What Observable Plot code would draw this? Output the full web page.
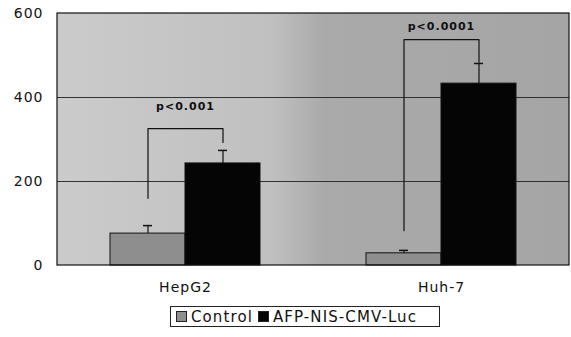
<!DOCTYPE html>
<html>
<head>
<meta charset="utf-8">
<script src="https://cdn.jsdelivr.net/npm/d3@7"></script>
<script src="https://cdn.jsdelivr.net/npm/@observablehq/plot@0.6"></script>
<style>
  html, body { margin: 0; padding: 0; background: #fff; }
  #wrap { position: relative; width: 571px; height: 337px; }
  #legend {
    position: absolute; left: 170px; top: 306px; height: 21px; width: 270px;
    border: 1px solid #222; display: flex; align-items: center; gap: 5px;
    padding: 0 5px; font-family: "DejaVu Sans", sans-serif; font-size: 15px;
    letter-spacing: 1.1px; color: #111; background: #fff; box-sizing: border-box;
  }
  #legend .sw { display: inline-block; width: 9px; height: 9px; border: 1px solid #222; margin-right: 4px; }
  #legend .item { display: inline-flex; align-items: center; white-space: nowrap; }
</style>
</head>
<body>
<div id="wrap">
  <div id="chart"></div>
  <div id="legend"></div>
</div>
<script>
// ---- data ----
const groups = ["HepG2", "Huh-7"];
const series = ["Control", "AFP-NIS-CMV-Luc"];
const controlMean = [76, 29];
const controlErr = [19, 7];
const afpMean = [243, 433];
const afpErr = [31, 48];
const pLabels = ["p<0.001", "p<0.0001"];
const pLabelY = [378, 568];
const bracketTop = [326, 538];
const bracketLeftEnd = [160, 83];
const bracketRightEnd = [293, 484];
const yTicks = [0, 200, 400, 600];
const gridValues = [200, 400];
const seriesColors = ["#8e8e8e", "#050505"];

// ---- tables built from the arrays ----
const bars = [];
groups.forEach((g, i) => {
  bars.push({group: g, series: series[0], value: controlMean[i], err: controlErr[i]});
  bars.push({group: g, series: series[1], value: afpMean[i], err: afpErr[i]});
});
const brackets = [];
groups.forEach((g, i) => {
  brackets.push({group: g, series: series[0], y: bracketLeftEnd[i]});
  brackets.push({group: g, series: series[0], y: bracketTop[i]});
  brackets.push({group: g, series: series[1], y: bracketTop[i]});
  brackets.push({group: g, series: series[1], y: bracketRightEnd[i]});
});
const pText = groups.map((g, i) => ({group: g, label: pLabels[i], y: pLabelY[i]}));

const W = 571, H = 300, ML = 57, MR = 2, MT = 13, MB = 35;

const plot = Plot.plot({
  width: W, height: H,
  marginLeft: ML, marginRight: MR, marginTop: MT, marginBottom: MB,
  style: {fontFamily: "DejaVu Sans, sans-serif", fontSize: "14px", color: "#111", background: "transparent"},
  fx: {domain: groups, padding: 0, label: null, axis: "bottom", tickSize: 0, tickPadding: 17},
  x: {domain: series, paddingInner: 0, paddingOuter: 0.7, axis: null},
  y: {domain: [0, 600], ticks: yTicks, tickSize: 0, tickPadding: 14, label: null},
  color: {domain: series, range: seriesColors},
  marks: [
    Plot.ruleY(gridValues, {stroke: "#222", strokeWidth: 1, strokeOpacity: 0.9}),
    Plot.barY(bars, {fx: "group", x: "series", y: "value", fill: "series", stroke: "#111", strokeWidth: 1}),
    Plot.ruleX(bars, {fx: "group", x: "series", y1: "value", y2: d => d.value + d.err, stroke: "#111", strokeWidth: 1.2}),
    Plot.tickY(bars, {fx: "group", x: "series", y: d => d.value + d.err, stroke: "#111", strokeWidth: 1.5, insetLeft: 33, insetRight: 33}),
    Plot.line(brackets, {fx: "group", x: "series", y: "y", z: "group", stroke: "#111", strokeWidth: 1.2}),
    Plot.text(pText, {fx: "group", y: "y", text: "label", fontSize: 11, fontWeight: "bold", fill: "#111"})
  ]
});

// gradient background & border (layout only)
const svg = d3.select(plot);
const defs = svg.insert("defs", ":first-child");
const grad = defs.append("linearGradient").attr("id", "bgGrad")
  .attr("gradientUnits", "userSpaceOnUse")
  .attr("x1", ML).attr("x2", W - MR).attr("y1", 0).attr("y2", 0);
[[0, "#cbcbcb"], [0.42, "#c0c0c0"], [0.52, "#aaaaaa"], [1, "#a5a5a5"]].forEach(([o, c]) =>
  grad.append("stop").attr("offset", o).attr("stop-color", c));
svg.insert("rect", "defs + *")
  .attr("x", ML).attr("y", MT).attr("width", W - ML - MR).attr("height", H - MT - MB)
  .attr("fill", "url(#bgGrad)");
svg.append("rect")
  .attr("x", ML).attr("y", MT).attr("width", W - ML - MR).attr("height", H - MT - MB)
  .attr("fill", "none").attr("stroke", "#111").attr("stroke-width", 1.2);
svg.selectAll("text").style("letter-spacing", "1px");

document.getElementById("chart").appendChild(plot);

// legend
const leg = document.getElementById("legend");
series.forEach((s, i) => {
  const item = document.createElement("span");
  item.className = "item";
  const sw = document.createElement("span");
  sw.className = "sw";
  sw.style.background = seriesColors[i];
  item.appendChild(sw);
  item.appendChild(document.createTextNode(s));
  leg.appendChild(item);
});
</script>
</body>
</html>
